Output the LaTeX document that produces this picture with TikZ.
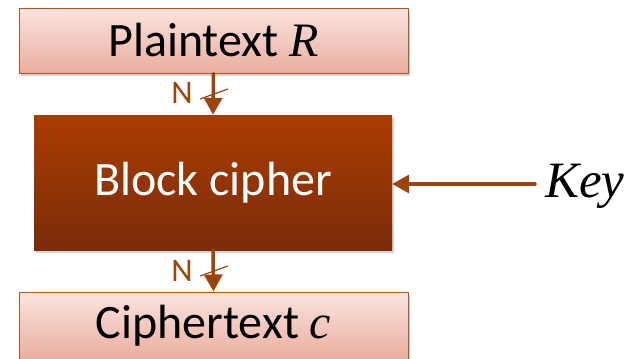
\documentclass[tikz,border=0pt]{standalone}
\usepackage{fontspec}
\setmainfont{Carlito}
\newfontfamily\varfont{Liberation Serif}
\usetikzlibrary{arrows.meta,shadows}
\definecolor{boxtop}{HTML}{FAE4DF}
\definecolor{boxbot}{HTML}{EAAD9F}
\definecolor{boxedge}{HTML}{B5541F}
\definecolor{bctop}{HTML}{AA3D00}
\definecolor{bcbot}{HTML}{7B2B0B}
\definecolor{arr}{HTML}{9C440C}
\tikzset{
  textbox/.style={draw=boxedge, line width=1pt, top color=boxtop, bottom color=boxbot,
    minimum width=389pt, minimum height=65pt, inner sep=0pt, font=\fontsize{48}{52}\selectfont,
    drop shadow={shadow xshift=2pt, shadow yshift=-3pt, opacity=0.35}},
  cipherbox/.style={draw=none, top color=bctop, bottom color=bcbot,
    minimum width=358pt, minimum height=135pt, inner sep=0pt, text=white,
    font=\fontsize{48}{52}\selectfont,
    drop shadow={shadow xshift=2pt, shadow yshift=-3pt, opacity=0.35}},
  flow/.style={draw=arr, line width=3.5pt, line cap=round, -{Triangle[length=17pt,width=18pt]}},
  slash/.style={draw=arr, line width=1.2pt},
  nlab/.style={text=arr, font=\fontsize{33}{36}\selectfont, inner sep=0pt}
}
\begin{document}
\begin{tikzpicture}[x=1pt,y=1pt]
\useasboundingbox (0,0) rectangle (638,-359);
\node[textbox] (pt) at (213.5,-40.5) {Plaintext {\varfont\itshape R}};
\node[cipherbox] (bc) at (213,-182.5) {Block cipher};
\node[textbox, minimum height=68pt] (ct) at (213.5,-326) {Ciphertext {\varfont\itshape c}};
\node[anchor=west, inner sep=0pt, font=\fontsize{51}{55}\selectfont\varfont\itshape] (key) at (545,-186) {Key};
\draw[flow] (pt.south) -- (bc.north);
\draw[flow] (bc.south) -- (ct.north);
\draw[flow] ([xshift=-10pt]key.west |- 0,-184) coordinate (ks) -- (bc.east |- ks);
\coordinate (m1) at (213,-94);
\coordinate (m2) at (213,-271);
\draw[slash] ([xshift=-13pt,yshift=-5pt]m1) -- ([xshift=15pt,yshift=5pt]m1);
\draw[slash] ([xshift=-13pt,yshift=-5pt]m2) -- ([xshift=15pt,yshift=5pt]m2);
\node[nlab] (n1) at (182,-93) {N};
\node[nlab] (n2) at (182,-271) {N};
\end{tikzpicture}
\end{document}
